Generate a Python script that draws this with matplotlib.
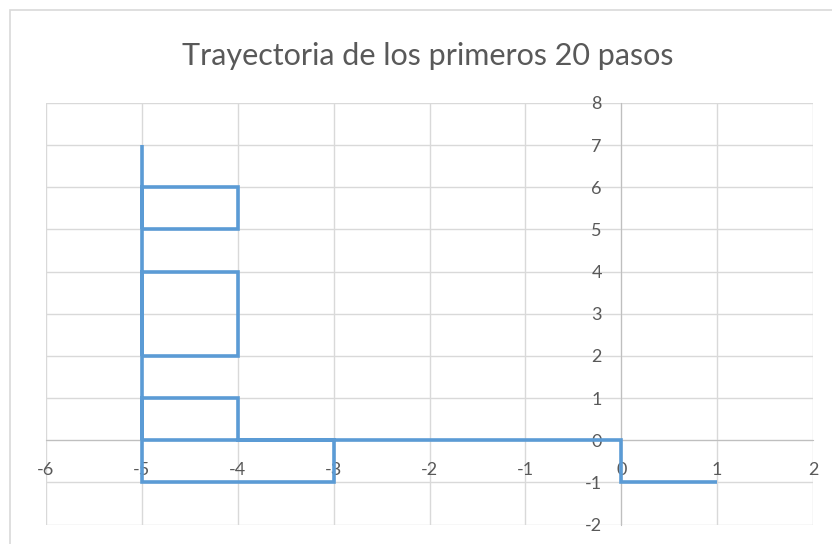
import matplotlib.pyplot as plt
from matplotlib.patches import Rectangle

# Recorrido (x, y) de la caminata
pasos_x = [1, 0, 0, -5, -5, -3, -3, -4, -4, -5, -5, -5, -4, -4, -5, -5, -5, -4, -4, -5, -5, -5]
pasos_y = [-1, -1, 0, 0, -1, -1, 0, 0, 1, 1, 0, 2, 2, 4, 4, 2, 5, 5, 6, 6, 5, 7]

ticks_x = [-6, -5, -4, -3, -2, -1, 0, 1, 2]
ticks_y = [-2, -1, 0, 1, 2, 3, 4, 5, 6, 7, 8]

TITULO = "Trayectoria de los primeros 20 pasos"
GRIS_TEXTO = "#595959"
GRIS_GRID = "#D9D9D9"
GRIS_EJE = "#BFBFBF"
AZUL = "#5B9BD5"

plt.rcParams["font.family"] = ["Lato", "DejaVu Sans"]
plt.rcParams["axes.unicode_minus"] = False

fig = plt.figure(figsize=(8.32, 5.44), dpi=100)
W, H = 832, 544

# marco del gráfico
fig.patches.append(Rectangle((10 / W, -0.1), 1.2, (534 / H) + 0.1, transform=fig.transFigure,
                             fill=False, edgecolor="#D9D9D9", linewidth=1.2))

ax = fig.add_axes([46 / W, 19.5 / H, 767 / W, 421.5 / H])
ax.plot(pasos_x, pasos_y, color=AZUL, linewidth=2.6, solid_joinstyle="miter",
        solid_capstyle="butt", zorder=3)

ax.set_xlim(ticks_x[0], ticks_x[-1])
ax.set_ylim(ticks_y[0], ticks_y[-1])
ax.set_xticks(ticks_x)
ax.set_yticks(ticks_y)
ax.grid(True, color=GRIS_GRID, linewidth=1.0, zorder=0)
ax.set_axisbelow(True)
for gl in ax.get_xgridlines() + ax.get_ygridlines():
    gl.set_clip_on(False)

for lado in ("top", "right"):
    ax.spines[lado].set_visible(False)
ax.spines["left"].set_position(("data", 0))
ax.spines["bottom"].set_position(("data", 0))
ax.spines["left"].set_color(GRIS_EJE)
ax.spines["bottom"].set_color(GRIS_EJE)
ax.spines["left"].set_zorder(1)
ax.spines["bottom"].set_zorder(1)

ax.tick_params(axis="x", length=0, pad=16, labelsize=13, labelcolor=GRIS_TEXTO)
ax.tick_params(axis="y", length=0, pad=14, labelsize=13, labelcolor=GRIS_TEXTO)

fig.text(428 / W, 1 - 56 / H, TITULO, ha="center", va="center", fontsize=22,
         color=GRIS_TEXTO)

fig.savefig("out.png", dpi=100)
